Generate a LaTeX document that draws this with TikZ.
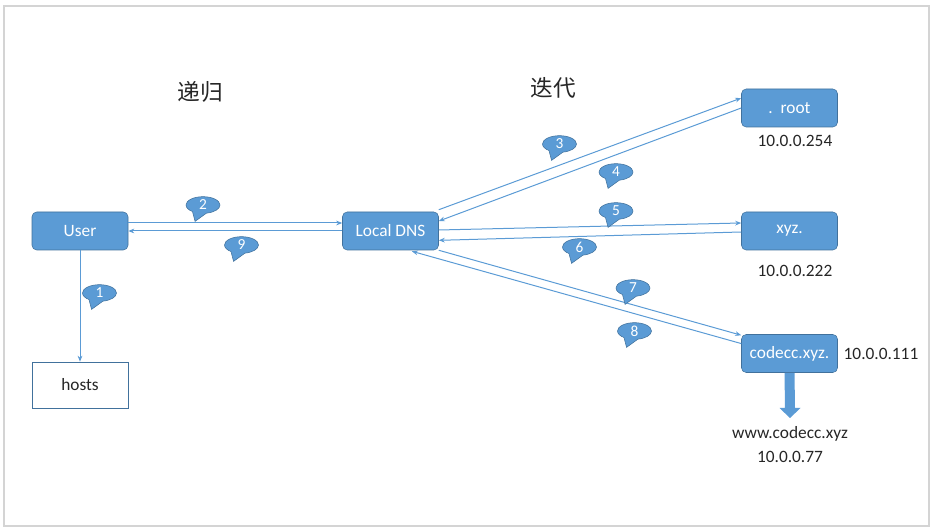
\documentclass[tikz,border=0pt]{standalone}
\usepackage{fontspec}
\setmainfont{Carlito}
\newfontfamily\cjk{Noto Sans CJK SC}
\usepackage{tikz}
\usetikzlibrary{arrows.meta,shapes.callouts,calc}
\definecolor{boxblue}{HTML}{5B9BD5}
\definecolor{boxedge}{HTML}{41719C}
\definecolor{framegray}{HTML}{D4D4D4}
\definecolor{txtgray}{HTML}{262626}

\begin{document}
\begin{tikzpicture}[x=0.75pt, y=-0.75pt, >={Stealth[length=4.5pt,width=3.5pt]},
    box/.style={draw=boxedge, fill=boxblue, rounded corners=3.5pt, minimum width=72pt, minimum height=28.5pt, inner sep=0pt, text=white, font=\fontsize{13}{15}\selectfont},
    plainbox/.style={draw=boxedge, fill=white, minimum width=72pt, minimum height=34.5pt, inner sep=0pt, text=txtgray, font=\fontsize{13}{15}\selectfont},
    addr/.style={inner sep=0pt, text=txtgray, font=\fontsize{13}{15}\selectfont},
    title/.style={inner sep=0pt, text=txtgray, font=\cjk\fontsize{17}{20}\selectfont},
    bubble/.style={ellipse callout, fill=boxblue, draw=boxedge, line width=0.4pt, minimum width=25.5pt, minimum height=12.5pt, inner sep=0pt, text=white, font=\fontsize{11.5}{12}\selectfont, callout relative pointer={(-3pt,-6.2pt)}, callout pointer arc=50},
    link/.style={->, draw=boxblue, line width=0.75pt},
    fat/.style={fill=boxblue}]

    \useasboundingbox (0,0) rectangle (933,530);
    \draw[framegray, line width=1.5pt] (4,6) rectangle (929,526);

    \node at (200,92) [title] (rec){递归};
    \node at (553,88) [title] (ite){迭代};

    \node at (80,231) [box] (user){User};
    \node at (80,385) [plainbox] (hosts){hosts};
    \node at (390.5,231) [box] (dns){Local DNS};
    \node at (789.5,108) [box] (root){.\ \ root};
    \node at (789.5,231) [box] (xyz){xyz.};
    \node at (789.5,353.5) [box] (codecc){codecc.xyz.};

    \node at (795,141) [addr] (iproot){10.0.0.254};
    \node at (795,271) [addr] (ipxyz){10.0.0.222};
    \node at (881,353.5) [addr] (ipcodecc){10.0.0.111};
    \node at (790,434) [addr] (www){www.codecc.xyz};
    \node at (790,457) [addr] (ipwww){10.0.0.77};
    \coordinate (tip) at (790,418);

    %% Arrows
    \draw [link] (user) -- (hosts);
    \draw [link] ([yshift=6pt]user.east) -- ([yshift=6pt]dns.west);
    \draw [link] (dns.west) -- (user.east);
    \draw [link] ([yshift=1.5pt]dns.north east) -- ([yshift=-7pt]root.north west);
    \draw [link] (root.west) -- ([yshift=-7pt]dns.north east);
    \draw [link] ([yshift=0.75pt]dns.east) -- ([yshift=6pt]xyz.west);
    \draw [link] ([yshift=-0.75pt]xyz.west) -- ([yshift=-7pt]dns.east);
    \draw [link] (dns.south east) -- ([yshift=-0.75pt]codecc.north west);
    \draw [link] ([yshift=-7pt]codecc.north west) -- ([xshift=16pt,yshift=-0.75pt]dns.south);
    \fill [fat] ($(codecc.south)+(-5,0)$) -- ($(tip)+(-5,-10)$) -- ($(tip)+(-10.5,-10)$) -- (tip)
        -- ($(tip)+(10.5,-10)$) -- ($(tip)+(5,-10)$) -- ($(codecc.south)+(5,0)$) -- cycle;

    %% Steps
    \node at (99.5,293) [bubble] (s1){1};
    \node at (203,205) [bubble] (s2){2};
    \node at (559.5,144) [bubble] (s3){3};
    \node at (616,172) [bubble] (s4){4};
    \node at (616,211) [bubble] (s5){5};
    \node at (579.5,247) [bubble] (s6){6};
    \node at (633,288) [bubble] (s7){7};
    \node at (634.5,331) [bubble] (s8){8};
    \node at (241.5,245) [bubble] (s9){9};
\end{tikzpicture}
\end{document}
